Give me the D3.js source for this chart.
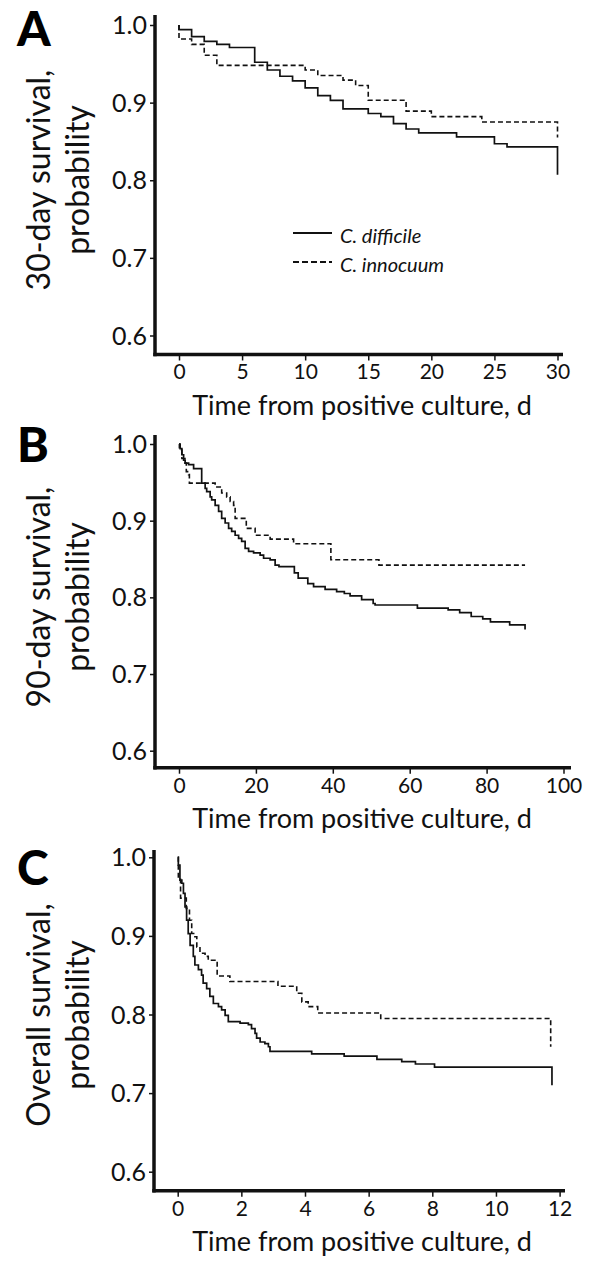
<!DOCTYPE html>
<html><head><meta charset="utf-8">
<script src="https://cdn.jsdelivr.net/npm/d3@7"></script>
<style>body{margin:0;background:#fff} svg{display:block}</style>
</head><body><svg id="c" width="600" height="1269"></svg>
<script>
// ---------- data ----------
const yTicks = [0.6, 0.7, 0.8, 0.9, 1.0];
const panelLetters = ["A", "B", "C"];
const yTitles = [["30-day survival,", "probability"], ["90-day survival,", "probability"], ["Overall survival,", "probability"]];
const xTitle = "Time from positive culture, d";
const xTicksA = [0, 5, 10, 15, 20, 25, 30];
const xTicksB = [0, 20, 40, 60, 80, 100];
const xTicksC = [0, 2, 4, 6, 8, 10, 12];
const seriesNames = ["C. difficile", "C. innocuum"];

// [time, survival probability]
const difficile30 = [[0,1.0],[0,0.994],[1,0.985],[2,0.979],[3,0.975],[4,0.971],[6,0.952],[7,0.942],[8,0.934],[9,0.928],[10,0.919],[11,0.909],[12,0.903],[13,0.892],[15,0.886],[16,0.882],[17,0.873],[18,0.866],[19,0.861],[22,0.856],[25,0.847],[26,0.843],[30,0.843],[30,0.807]];
const innocuum30 = [[0,1.0],[0,0.982],[1,0.975],[2,0.961],[3,0.948],[10,0.942],[11,0.935],[13,0.929],[14,0.922],[15,0.903],[18,0.889],[20,0.882],[24,0.875],[30,0.875],[30,0.855]];

const difficile90 = [[0,1.0],[0.3,0.994],[0.75,0.986],[1.2,0.979],[1.6,0.975],[2.5,0.973],[3.8,0.968],[5.9,0.949],[6.8,0.942],[7.2,0.938],[8.1,0.931],[8.5,0.927],[9.4,0.920],[10.3,0.912],[11.1,0.903],[12,0.897],[12.9,0.890],[13.7,0.886],[14.6,0.881],[15.5,0.877],[16.3,0.873],[17.2,0.864],[18.1,0.860],[19.4,0.858],[21.1,0.855],[22,0.851],[23.7,0.849],[25,0.842],[26,0.840],[30,0.832],[31,0.825],[33.5,0.818],[35,0.814],[38,0.8105],[41,0.8075],[43,0.805],[44.5,0.802],[47.5,0.797],[50.5,0.792],[51,0.790],[62,0.786],[70,0.7836],[73,0.780],[76,0.775],[79,0.772],[81,0.768],[86,0.764],[90,0.764],[90,0.758]];
const innocuum90 = [[0,1.0],[0.1,0.992],[0.75,0.981],[1.6,0.975],[1.9,0.964],[2.5,0.960],[2.7,0.949],[9.4,0.944],[11.1,0.936],[12.4,0.931],[13.3,0.925],[14.2,0.920],[14.6,0.903],[17.5,0.890],[19.8,0.881],[23.7,0.876],[29.8,0.870],[39.5,0.849],[52,0.842],[90,0.842]];

const difficileAll = [[0,1.0],[0.02,0.990],[0.07,0.971],[0.13,0.967],[0.18,0.954],[0.23,0.937],[0.28,0.920],[0.33,0.903],[0.39,0.888],[0.49,0.874],[0.54,0.863],[0.65,0.857],[0.75,0.850],[0.80,0.840],[0.91,0.833],[1.01,0.823],[1.12,0.814],[1.28,0.810],[1.38,0.806],[1.49,0.799],[1.59,0.791],[1.96,0.789],[2.22,0.787],[2.32,0.782],[2.43,0.776],[2.48,0.770],[2.59,0.765],[2.74,0.763],[2.85,0.759],[2.90,0.753],[4.21,0.750],[5.23,0.747],[6.26,0.743],[7.04,0.740],[7.47,0.737],[8.07,0.733],[11.76,0.733],[11.76,0.710]];
const innocuumAll = [[0,1.0],[0.02,0.975],[0.09,0.948],[0.27,0.935],[0.37,0.920],[0.44,0.903],[0.54,0.899],[0.60,0.886],[0.70,0.878],[0.86,0.874],[0.96,0.869],[1.24,0.849],[1.64,0.842],[3.15,0.836],[3.74,0.827],[3.90,0.816],[4.1,0.810],[4.4,0.802],[6.38,0.795],[11.72,0.795],[11.72,0.759]];

// ---------- layout ----------
const panels = [
  {letter: panelLetters[0], title: yTitles[0], xTicks: xTicksA, xMax: 30, s1: difficile30, s2: innocuum30,
   x0: 179, x1: 557.5, y1: 25, y06: 335.5, axTop: 15, axBottom: 354.5, axLeft: 155, axRight: 563, letterY: 46, titleY: 180, legend: true},
  {letter: panelLetters[1], title: yTitles[1], xTicks: xTicksB, xMax: 100, s1: difficile90, s2: innocuum90,
   x0: 179, x1: 563.5, y1: 444, y06: 750.7, axTop: 435, axBottom: 767.7, axLeft: 155, axRight: 571, letterY: 462, titleY: 597},
  {letter: panelLetters[2], title: yTitles[2], xTicks: xTicksC, xMax: 12, s1: difficileAll, s2: innocuumAll,
   x0: 177.7, x1: 559.6, y1: 857.3, y06: 1171.7, axTop: 850, axBottom: 1190.7, axLeft: 154, axRight: 565, letterY: 885, titleY: 1015}
];

const FONT = "Lato, 'Open Sans', sans-serif";
const INK = "#111";
const svg = d3.select("#c");

panels.forEach(p => {
  const g = svg.append("g");
  const x = d3.scaleLinear().domain([0, p.xMax]).range([p.x0, p.x1]);
  const y = d3.scaleLinear().domain([0.6, 1.0]).range([p.y06, p.y1]);

  // y axis (ticks + labels)
  const ya = g.append("g").attr("transform", `translate(${p.axLeft},0)`)
    .call(d3.axisLeft(y).tickValues(yTicks).tickFormat(d3.format(".1f")).tickSize(5).tickPadding(3));
  ya.select(".domain").remove();
  ya.selectAll(".tick line").attr("stroke", INK).attr("stroke-width", 1.5);
  ya.selectAll(".tick text").attr("font-family", FONT).attr("font-size", 25).attr("fill", INK).attr("dy", "0.34em");

  // x axis
  const xa = g.append("g").attr("transform", `translate(0,${p.axBottom})`)
    .call(d3.axisBottom(x).tickValues(p.xTicks).tickFormat(d3.format("d")).tickSize(6).tickPadding(4));
  xa.select(".domain").remove();
  xa.selectAll(".tick line").attr("stroke", INK).attr("stroke-width", 1.5);
  xa.selectAll(".tick text").attr("font-family", FONT).attr("font-size", 21).attr("fill", INK);

  // thick axis lines
  g.append("line").attr("x1", p.axLeft).attr("x2", p.axLeft).attr("y1", p.axTop).attr("y2", p.axBottom + 1.7)
    .attr("stroke", INK).attr("stroke-width", 3.5);
  g.append("line").attr("x1", p.axLeft - 1.7).attr("x2", p.axRight).attr("y1", p.axBottom).attr("y2", p.axBottom)
    .attr("stroke", INK).attr("stroke-width", 3.5);

  // curves
  const line = d3.line().x(d => x(d[0])).y(d => y(d[1])).curve(d3.curveStepAfter);
  g.append("path").datum(p.s1).attr("d", line).attr("fill", "none").attr("stroke", INK).attr("stroke-width", 1.7);
  g.append("path").datum(p.s2).attr("d", line).attr("fill", "none").attr("stroke", INK).attr("stroke-width", 1.6)
    .attr("stroke-dasharray", "5,3");

  // panel letter
  g.append("text").attr("x", 17).attr("y", p.letterY).text(p.letter)
    .attr("font-family", FONT).attr("font-weight", 900).attr("font-size", 48).attr("fill", "#000");

  // y title
  const yt = g.append("text").attr("transform", `translate(0,${p.titleY}) rotate(-90)`)
    .attr("text-anchor", "middle").attr("font-family", FONT).attr("font-size", 32).attr("fill", INK);
  yt.append("tspan").attr("x", 0).attr("y", 50).text(p.title[0]);
  yt.append("tspan").attr("x", 0).attr("y", 89).text(p.title[1]);

  // x title
  g.append("text").attr("x", 362).attr("y", p.axBottom + 51).attr("dy", "0.35em")
    .attr("text-anchor", "middle").attr("font-family", FONT).attr("font-size", 27).attr("fill", INK).text(xTitle);

  if (p.legend) {
    const lg = g.append("g");
    [0, 1].forEach(i => {
      const ly = [233, 262][i];
      lg.append("line").attr("x1", 293).attr("x2", 332).attr("y1", ly).attr("y2", ly)
        .attr("stroke", INK).attr("stroke-width", 1.8).attr("stroke-dasharray", i ? "6,3" : null);
      lg.append("text").attr("x", 340).attr("y", ly + 3).attr("dy", "0.35em").text(seriesNames[i])
        .attr("font-family", FONT).attr("font-style", "italic").attr("font-size", 20).attr("fill", INK);
    });
  }
});
</script></body></html>
